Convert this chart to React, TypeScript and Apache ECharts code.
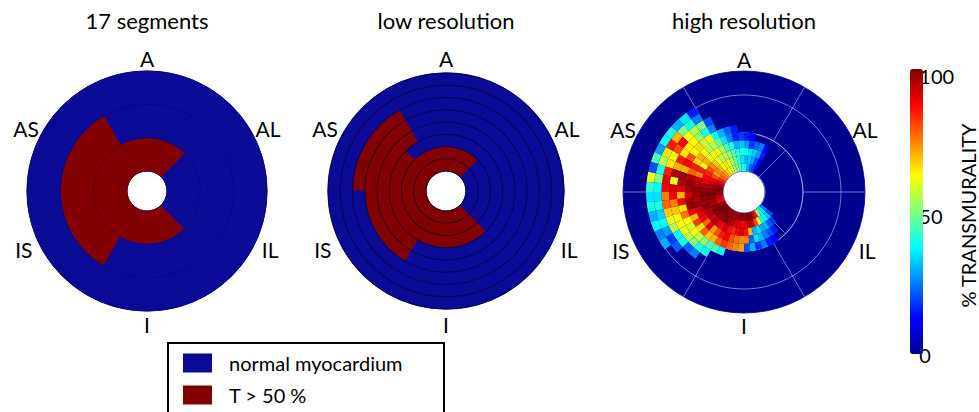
import React, { useEffect, useRef } from 'react';
import * as echarts from 'echarts';

// ---------- texts ----------
const TITLES = ['17 segments', 'low resolution', 'high resolution'];
const WALL_LABELS = ['A', 'AS', 'IS', 'I', 'IL', 'AL'];
const WALL_LABEL_ANGLES = [90, 152, 206, 270, 334, 28];
const LEGEND_NAMES = ['normal myocardium', 'T > 50 %'];
const COLORBAR_TICKS = [0, 50, 100];
const COLORBAR_TITLE = '% TRANSMURALITY';

// ---------- 17-segment model (1 = T > 50 %) ----------
// order: anterior, anteroseptal, inferoseptal, inferior, inferolateral, anterolateral
const SEG_BASAL = [0, 0, 0, 0, 0, 0];
const SEG_MID = [0, 1, 1, 0, 0, 0];
// order: anterior, septal, inferior, lateral
const SEG_APICAL = [1, 1, 1, 0];

// ---------- low resolution: rings inner -> outer, 24 sectors of 15 deg (ccw from 3 o'clock) ----------
const LOW_R0 = [0, 0, 0, 1, 1, 1, 1, 1, 1, 1, 1, 1, 1, 1, 1, 1, 1, 1, 1, 1, 1, 0, 0, 0];
const LOW_R1 = [0, 0, 0, 1, 1, 1, 1, 1, 1, 1, 1, 1, 1, 1, 1, 1, 1, 1, 1, 1, 1, 0, 0, 0];
const LOW_R2 = [0, 0, 0, 0, 0, 0, 0, 0, 0, 1, 1, 1, 1, 1, 1, 1, 1, 1, 1, 1, 1, 0, 0, 0];
const LOW_R3 = [0, 0, 0, 0, 0, 0, 0, 0, 1, 1, 1, 1, 1, 1, 1, 1, 0, 0, 0, 0, 0, 0, 0, 0];
const LOW_R4 = [0, 0, 0, 0, 0, 0, 0, 0, 1, 1, 1, 1, 1, 1, 1, 1, 0, 0, 0, 0, 0, 0, 0, 0];
const LOW_R5 = [0, 0, 0, 0, 0, 0, 0, 0, 1, 1, 1, 1, 0, 0, 0, 0, 0, 0, 0, 0, 0, 0, 0, 0];
const LOW_R6 = [0, 0, 0, 0, 0, 0, 0, 0, 0, 0, 0, 0, 0, 0, 0, 0, 0, 0, 0, 0, 0, 0, 0, 0];
const LOW_R7 = [0, 0, 0, 0, 0, 0, 0, 0, 0, 0, 0, 0, 0, 0, 0, 0, 0, 0, 0, 0, 0, 0, 0, 0];
const LOW_RINGS = [LOW_R0, LOW_R1, LOW_R2, LOW_R3, LOW_R4, LOW_R5, LOW_R6, LOW_R7];

// ---------- high resolution: % transmurality, 6 deg sectors from 60 deg to 324 deg ----------
const HR_FIRST_SECTOR = 10; // sector index of first value (10 * 6 deg = 60 deg)
const HR_R0 = [10, 18, 22, 30, 38, 40, 45, 50, 52, 58, 62, 66, 72, 75, 78, 84, 90, 95, 98, 100, 98, 94, 92, 88, 96, 99, 100, 100, 98, 97, 99, 96, 97, 99, 100, 98, 100, 98, 95, 85, 55, 40, 35, 25];
const HR_R1 = [12, 20, 28, 32, 30, 35, 42, 48, 55, 60, 65, 62, 70, 74, 72, 80, 88, 92, 96, 98, 100, 99, 97, 96, 98, 100, 99, 97, 98, 100, 96, 94, 92, 90, 88, 90, 94, 92, 80, 60, 40, 38, 32, 20];
const HR_R2 = [15, 28, 32, 35, 38, 42, 40, 45, 52, 55, 57, 60, 68, 74, 80, 84, 88, 90, 95, 98, 100, 98, 97, 99, 95, 96, 92, 95, 90, 88, 92, 86, 84, 88, 90, 86, 70, 30, 35, 28, 30, 22, 18, 0];
const HR_R3 = [12, 25, 22, 18, 28, 32, 30, 40, 45, 55, 60, 62, 60, 70, 62, 85, 75, 92, 95, 98, 97, 95, 98, 92, 90, 88, 78, 90, 72, 80, 85, 88, 80, 76, 74, 75, 22, 35, 30, 25, 20, 15, 0, 0];
const HR_R4 = [0, 0, 0, 12, 15, 18, 15, 25, 35, 48, 55, 55, 62, 70, 66, 85, 78, 95, 98, 96, 92, 97, 98, 88, 70, 82, 65, 78, 68, 70, 78, 82, 78, 75, 72, 20, 30, 18, 25, 15, 12, 0, 0, 0];
const HR_R5 = [0, 0, 0, 0, 0, 0, 15, 22, 30, 38, 62, 58, 66, 62, 80, 88, 70, 98, 95, 90, 70, 88, 65, 76, 62, 58, 62, 56, 52, 45, 44, 38, 0, 0, 0, 0, 0, 0, 0, 0, 0, 0, 0, 0];
const HR_R6 = [0, 0, 0, 0, 0, 0, 0, 0, 0, 25, 40, 52, 62, 64, 65, 85, 70, 95, 60, 92, 88, 75, 68, 62, 63, 60, 55, 50, 42, 38, 0, 0, 0, 0, 0, 0, 0, 0, 0, 0, 0, 0, 0, 0];
const HR_R7 = [0, 0, 0, 0, 0, 0, 0, 0, 0, 20, 50, 55, 62, 88, 80, 62, 65, 85, 90, 88, 75, 78, 68, 60, 55, 38, 40, 22, 25, 0, 0, 0, 0, 0, 0, 0, 0, 0, 0, 0, 0, 0, 0, 0];
const HR_R8 = [0, 0, 0, 0, 0, 0, 0, 0, 0, 0, 25, 40, 50, 70, 85, 65, 55, 40, 50, 38, 35, 40, 33, 38, 28, 18, 22, 0, 0, 0, 0, 0, 0, 0, 0, 0, 0, 0, 0, 0, 0, 0, 0, 0];
const HR_R9 = [0, 0, 0, 0, 0, 0, 0, 0, 0, 0, 15, 35, 30, 40, 38, 28, 45, 20, 60, 42, 35, 40, 30, 38, 25, 30, 0, 0, 0, 0, 0, 0, 0, 0, 0, 0, 0, 0, 0, 0, 0, 0, 0, 0];
const HR_RINGS = [HR_R0, HR_R1, HR_R2, HR_R3, HR_R4, HR_R5, HR_R6, HR_R7, HR_R8, HR_R9];
const HR_RING_COUNT = 13;

// ---------- styles ----------
const BLUE = '#0a0a96';
const RED = '#820000';
const JET = ['#00008f', '#0000ff', '#007fff', '#00ffff', '#7fff7f', '#ffff00', '#ff7f00', '#ff0000', '#7f0000'];
const FONT = 'Lato, "Open Sans", sans-serif';
const CENTERS = [[147, 191], [446, 191], [744, 192]];
const OUTER_R = [120, 118, 121];
const HOLE_R = [20, 20, 21];

function buildOption() {
  const polar: any[] = [];
  const angleAxis: any[] = [];
  const radiusAxis: any[] = [];
  const series: any[] = [];
  const hidden = {
    axisLine: { show: false },
    axisTick: { show: false },
    axisLabel: { show: false },
    splitLine: { show: false },
  };
  const addPolar = (center: number[], radius: number[], a: any, r: any) => {
    const idx = polar.length;
    polar.push({ center, radius });
    angleAxis.push({ polarIndex: idx, ...hidden, ...a });
    radiusAxis.push({ polarIndex: idx, ...hidden, ...r });
    return idx;
  };
  const bgCells = ['q1', 'q2', 'q3', 'q4'];
  const addBackground = (k: number, color: string) => {
    const pb = addPolar(
      CENTERS[k],
      [HOLE_R[k], OUTER_R[k]],
      { type: 'category', data: bgCells, startAngle: 0, clockwise: false },
      { type: 'value', min: 0, max: 1 }
    );
    series.push({
      type: 'bar', coordinateSystem: 'polar', polarIndex: pb, barCategoryGap: '0%',
      silent: true, z: 1,
      data: bgCells.map(() => ({ value: 1, itemStyle: { color, borderColor: color, borderWidth: 0.8 } })),
    });
  };

  // ===== chart 1: 17 segments =====
  addBackground(0, BLUE);
  const cells24 = Array.from({ length: 24 }, (_, j) => String(j * 15));
  const p1 = addPolar(
    CENTERS[0],
    [HOLE_R[0], OUTER_R[0]],
    { type: 'category', data: cells24, startAngle: 0, clockwise: false },
    {
      type: 'value', min: 0, max: 3, interval: 1, z: 6,
      splitLine: { show: true, lineStyle: { color: 'rgba(0,0,40,0.2)', width: 1 } },
    }
  );
  const mod = (x: number, m: number) => ((x % m) + m) % m;
  const segState = (ring: number, j: number) => {
    const a = j * 15 + 7.5;
    if (ring === 0) return SEG_APICAL[Math.floor(mod(a - 45, 360) / 90)];
    const arr = ring === 1 ? SEG_MID : SEG_BASAL;
    return arr[Math.floor(mod(a - 60, 360) / 60)];
  };
  for (let ring = 0; ring < 3; ring++) {
    series.push({
      type: 'bar', coordinateSystem: 'polar', polarIndex: p1, stack: 'c1',
      barCategoryGap: '0%', silent: true, z: 2,
      data: cells24.map((_, j) => {
        const c = segState(ring, j) ? RED : BLUE;
        return { value: 1, itemStyle: { color: c, borderColor: c, borderWidth: 0.8 } };
      }),
    });
  }
  LEGEND_NAMES.forEach((name, i) => {
    series.push({
      type: 'bar', name, coordinateSystem: 'polar', polarIndex: p1, stack: 'c1',
      data: [], itemStyle: { color: i === 0 ? BLUE : RED },
    });
  });

  // ===== chart 2: low resolution =====
  addBackground(1, BLUE);
  const p2 = addPolar(
    CENTERS[1],
    [HOLE_R[1], OUTER_R[1]],
    { type: 'category', data: cells24, startAngle: 0, clockwise: false },
    {
      type: 'value', min: 0, max: LOW_RINGS.length, interval: 1, z: 6,
      splitLine: { show: true, lineStyle: { color: 'rgba(0,0,30,0.45)', width: 1.3 } },
    }
  );
  LOW_RINGS.forEach((ring) => {
    series.push({
      type: 'bar', coordinateSystem: 'polar', polarIndex: p2, stack: 'c2',
      barCategoryGap: '0%', silent: true, z: 2,
      data: ring.map((v) => {
        const c = v ? RED : BLUE;
        return { value: 1, itemStyle: { color: c, borderColor: c, borderWidth: 0.8 } };
      }),
    });
  });

  // ===== chart 3: high resolution =====
  addBackground(2, JET[0]);
  const gridLine = { show: true, lineStyle: { color: 'rgba(185,185,255,0.6)', width: 1 } };
  addPolar(CENTERS[2], [HOLE_R[2], 59],
    { type: 'value', min: 0, max: 360, interval: 90, startAngle: 45, z: 3, splitLine: gridLine, axisLine: gridLine },
    { type: 'value', min: 0, max: 1 });
  addPolar(CENTERS[2], [59, 97],
    { type: 'value', min: 0, max: 360, interval: 60, startAngle: 0, z: 3, splitLine: gridLine, axisLine: gridLine },
    { type: 'value', min: 0, max: 1 });
  addPolar(CENTERS[2], [97, OUTER_R[2]],
    { type: 'value', min: 0, max: 360, interval: 60, startAngle: 0, z: 3, splitLine: gridLine },
    { type: 'value', min: 0, max: 1 });

  const cells60 = Array.from({ length: 60 }, (_, j) => String(j * 6));
  const p3 = addPolar(
    CENTERS[2],
    [HOLE_R[2], OUTER_R[2]],
    { type: 'category', data: cells60, startAngle: 0, clockwise: false },
    { type: 'value', min: 0, max: HR_RING_COUNT }
  );
  const hrSeries: number[] = [];
  HR_RINGS.forEach((ring) => {
    hrSeries.push(series.length);
    series.push({
      type: 'bar', coordinateSystem: 'polar', polarIndex: p3, stack: 'c3',
      barCategoryGap: '0%', silent: true, z: 5,
      encode: { angle: 0, radius: 1 },
      data: cells60.map((_, j) => {
        const i = j - HR_FIRST_SECTOR;
        const v = i >= 0 && i < ring.length ? ring[i] : 0;
        return v > 0 ? { value: [j, 1, v] } : { value: [j, 1, 0], itemStyle: { opacity: 0 } };
      }),
    });
  });

  // ===== wall labels, legend frame =====
  const graphic: any[] = [];
  CENTERS.forEach((c) => {
    WALL_LABELS.forEach((lab, i) => {
      const a = (WALL_LABEL_ANGLES[i] * Math.PI) / 180;
      graphic.push({
        type: 'text', silent: true,
        x: c[0] + 137 * Math.cos(a),
        y: c[1] - 133 * Math.sin(a),
        style: {
          text: lab, fontSize: 21, fontFamily: FONT, fill: '#000',
          align: 'center', verticalAlign: 'middle', textAlign: 'center', textVerticalAlign: 'middle',
        },
      });
    });
  });
  graphic.push({
    type: 'rect', silent: true,
    shape: { x: 168, y: 343, width: 276, height: 100 },
    style: { fill: 'none', stroke: '#000', lineWidth: 2 },
  });

  return {
    animation: false,
    backgroundColor: '#fff',
    title: TITLES.map((t, k) => ({
      text: t, left: CENTERS[k][0], top: 9, textAlign: 'center', padding: 0,
      textStyle: { fontSize: 22, fontWeight: 'normal', fontFamily: FONT, color: '#000' },
    })),
    polar,
    angleAxis,
    radiusAxis,
    grid: { left: 910, top: 76, width: 13, height: 279 },
    xAxis: { type: 'value', show: false, min: 0, max: 1 },
    yAxis: {
      type: 'value', position: 'right',
      min: COLORBAR_TICKS[0], max: COLORBAR_TICKS[COLORBAR_TICKS.length - 1],
      interval: COLORBAR_TICKS[1] - COLORBAR_TICKS[0],
      axisLine: { show: false }, axisTick: { show: false }, splitLine: { show: false },
      axisLabel: { fontSize: 20, color: '#000', margin: 3, fontFamily: FONT },
      name: COLORBAR_TITLE, nameLocation: 'middle', nameRotate: 90, nameGap: 38,
      nameTextStyle: { fontSize: 20, color: '#000', fontFamily: FONT },
    },
    visualMap: {
      type: 'continuous', min: 0, max: 100, dimension: 2, seriesIndex: hrSeries,
      inRange: { color: JET }, calculable: false, orient: 'vertical',
      left: 910, top: 69, itemWidth: 13, itemHeight: 285, padding: 0, hoverLink: false,
    },
    legend: {
      orient: 'vertical', left: 183, top: 353, itemWidth: 29, itemHeight: 19, itemGap: 12,
      padding: 0, selectedMode: false,
      data: LEGEND_NAMES.map((n) => ({ name: n, icon: 'rect' })),
      textStyle: { fontSize: 20, fontFamily: FONT, color: '#000', padding: [0, 0, 0, 12] },
    },
    graphic,
    series,
  };
}

export default function App() {
  const ref = useRef<HTMLDivElement>(null);
  useEffect(() => {
    if (!ref.current) return;
    const chart = echarts.init(ref.current, undefined, { renderer: 'svg' });
    chart.setOption(buildOption() as any);
    return () => chart.dispose();
  }, []);
  return (
    <div
      ref={ref}
      style={{ position: 'absolute', left: 0, top: 0, width: 979, height: 412, background: '#fff' }}
    />
  );
}
